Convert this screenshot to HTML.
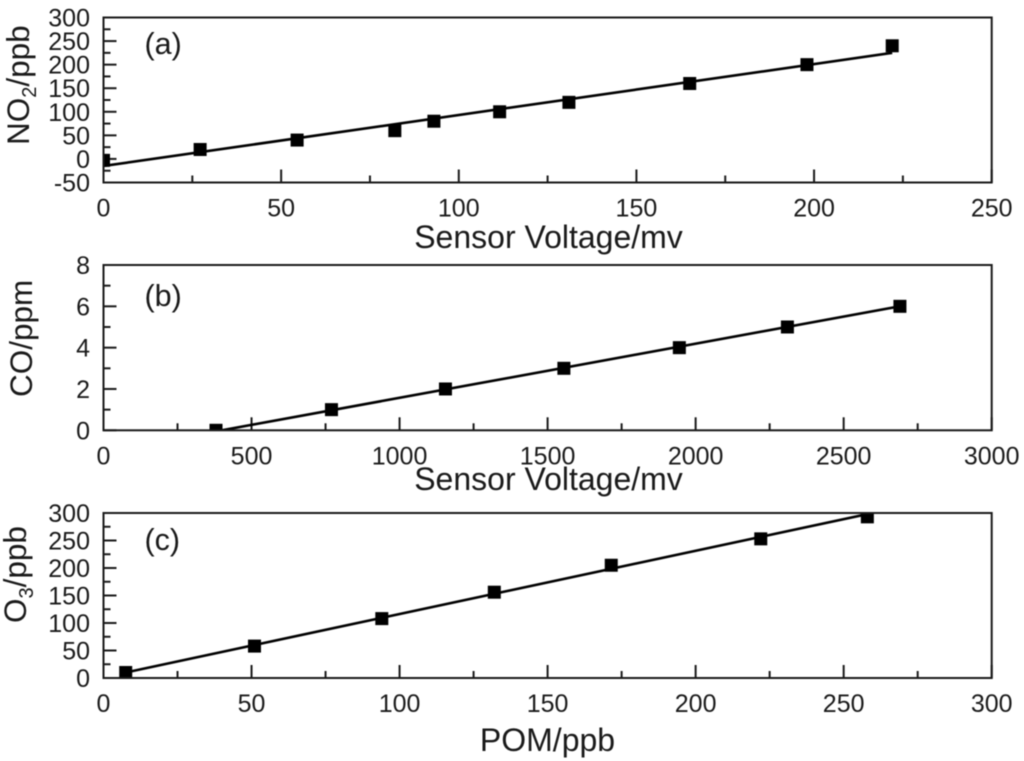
<!DOCTYPE html>
<html lang="en">
<head>
<meta charset="utf-8">
<title>Sensor calibration charts</title>
<style>
  html, body { margin: 0; padding: 0; background: #fff; }
  body { width: 1024px; height: 761px; overflow: hidden; }
  svg { display: block; filter: blur(0.45px); }
  text { font-family: "Liberation Sans", sans-serif; fill: #1a1a1a; }
  .tick { font-size: 25px; }
  .title { font-size: 31.5px; }
  .xtitle { font-size: 32px; }
  .tag { font-size: 30.5px; }
</style>
</head>
<body>
<svg id="figure" xmlns="http://www.w3.org/2000/svg" width="1024" height="761" viewBox="0 0 1024 761">
  <rect x="0" y="0" width="1024" height="761" fill="#ffffff"/>

  <text class="xtitle" x="548.5" y="248" text-anchor="middle">Sensor Voltage/mv</text>
  <text class="title" transform="translate(29,145) rotate(-90)">NO<tspan font-size="20" dy="7">2</tspan><tspan dy="-7">/ppb</tspan></text>
  <text class="tag" x="144.5" y="54">(a)</text>

  <text class="xtitle" x="548.5" y="490" text-anchor="middle">Sensor Voltage/mv</text>
  <text class="title" transform="translate(32,397) rotate(-90)">CO/ppm</text>
  <text class="tag" x="144.5" y="306">(b)</text>

  <text class="xtitle" x="547.5" y="751" text-anchor="middle">POM/ppb</text>
  <text class="title" transform="translate(26,623) rotate(-90)">O<tspan font-size="20" dy="7">3</tspan><tspan dy="-7">/ppb</tspan></text>
  <text class="tag" x="144.5" y="550">(c)</text>

  <g id="plots"></g>
</svg>
<script>
// Panel (a): NO2 vs sensor voltage
const aXTicks = [0, 50, 100, 150, 200, 250];
const aYTicks = [-50, 0, 50, 100, 150, 200, 250, 300];
const aVoltage = [0, 27.2, 54.5, 82, 93, 111.5, 131, 165, 198, 222];
const aNO2 = [-3, 20, 40, 60, 80, 100, 120, 160, 200, 240];
const aFitX = [0, 222];
const aFitY = [-15, 225];

// Panel (b): CO vs sensor voltage
const bXTicks = [0, 500, 1000, 1500, 2000, 2500, 3000];
const bYTicks = [0, 2, 4, 6, 8];
const bVoltage = [380, 770, 1155, 1555, 1945, 2310, 2690];
const bCO = [0, 1, 2, 3, 4, 5, 6];
const bFitX = [400, 2690];
const bFitY = [0, 6];

// Panel (c): O3 vs POM
const cXTicks = [0, 50, 100, 150, 200, 250, 300];
const cYTicks = [0, 50, 100, 150, 200, 250, 300];
const cPOM = [7.5, 51, 94, 132, 171.5, 222, 258];
const cO3 = [10, 58, 108, 156, 205, 253, 293];
const cFitX = [7.5, 258];
const cFitY = [10, 298];

const NS = 'http://www.w3.org/2000/svg';
const plots = document.getElementById('plots');

function make(parent, tag, attrs) {
  const el = document.createElementNS(NS, tag);
  for (const k in attrs) el.setAttribute(k, attrs[k]);
  parent.appendChild(el);
  return el;
}

function drawPanel(id, box, xTicks, yTicks, xs, ys, fitX, fitY) {
  const xMin = xTicks[0], xMax = xTicks[xTicks.length - 1];
  const yMin = yTicks[0], yMax = yTicks[yTicks.length - 1];
  const sx = v => box.left + (v - xMin) / (xMax - xMin) * (box.right - box.left);
  const sy = v => box.bottom - (v - yMin) / (yMax - yMin) * (box.bottom - box.top);

  const g = make(plots, 'g', {});
  
  

  const clip = make(g, 'clipPath', { id: 'clip-' + id });
  make(clip, 'rect', { x: box.left, y: box.top, width: box.right - box.left, height: box.bottom - box.top });

  // Ticks, major on labelled values and minor halfway between them
  xTicks.forEach((v, i) => {
    const major = make(g, 'line', { x1: sx(v), x2: sx(v), y1: box.bottom, y2: box.bottom - 13, stroke: '#1a1a1a', 'stroke-width': 2 });
    
    
    const label = make(g, 'text', { class: 'tick', x: sx(v), y: box.bottom + 34, 'text-anchor': 'middle' });
    label.textContent = v;
    
    
    if (i < xTicks.length - 1) {
      const m = sx((v + xTicks[i + 1]) / 2);
      const minor = make(g, 'line', { x1: m, x2: m, y1: box.bottom, y2: box.bottom - 7, stroke: '#1a1a1a', 'stroke-width': 2 });
      
      
    }
  });
  yTicks.forEach((v, i) => {
    const major = make(g, 'line', { x1: box.left, x2: box.left + 13, y1: sy(v), y2: sy(v), stroke: '#1a1a1a', 'stroke-width': 2 });
    
    
    const label = make(g, 'text', { class: 'tick', x: 90, y: sy(v) + 9, 'text-anchor': 'end' });
    label.textContent = v;
    
    
    if (i < yTicks.length - 1) {
      const m = sy((v + yTicks[i + 1]) / 2);
      const minor = make(g, 'line', { x1: box.left, x2: box.left + 7, y1: m, y2: m, stroke: '#1a1a1a', 'stroke-width': 2 });
      
      
    }
  });

  // Fit line
  const fit = make(g, 'line', { x1: sx(fitX[0]), y1: sy(fitY[0]), x2: sx(fitX[1]), y2: sy(fitY[1]), stroke: '#000', 'stroke-width': 2.6, 'clip-path': 'url(#clip-' + id + ')' });
  
  

  // Square markers, clipped at the plot frame
  const size = 13;
  xs.forEach((v, i) => {
    const pt = make(g, 'rect', { x: sx(v) - size / 2, y: sy(ys[i]) - size / 2, width: size, height: size, fill: '#000', 'clip-path': 'url(#clip-' + id + ')' });
    
    
  });

  // Frame
  const frame = make(g, 'rect', { x: box.left, y: box.top, width: box.right - box.left, height: box.bottom - box.top, fill: 'none', stroke: '#1a1a1a', 'stroke-width': 2 });
  
  
}

drawPanel('a', { left: 103.5, right: 991.7, top: 17.5, bottom: 182.5 }, aXTicks, aYTicks, aVoltage, aNO2, aFitX, aFitY);
drawPanel('b', { left: 103.5, right: 991.7, top: 265, bottom: 430.3 }, bXTicks, bYTicks, bVoltage, bCO, bFitX, bFitY);
drawPanel('c', { left: 103.5, right: 991.7, top: 513, bottom: 678 }, cXTicks, cYTicks, cPOM, cO3, cFitX, cFitY);
</script>
</body>
</html>
